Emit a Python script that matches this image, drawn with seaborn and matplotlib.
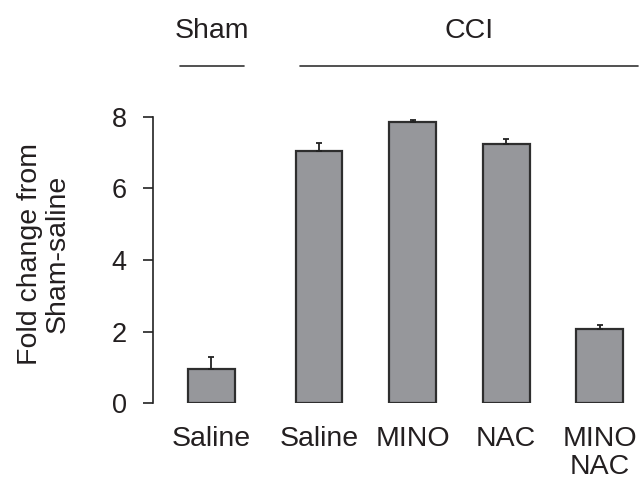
import numpy as np
import matplotlib
matplotlib.use("Agg")
import matplotlib.pyplot as plt
import seaborn as sns

# data
labels = ["Saline", "Saline", "MINO", "NAC", "MINO\nNAC"]
positions = [0.0, 1.15, 2.15, 3.15, 4.15]
values = [0.97, 7.05, 7.86, 7.25, 2.08]
errors = [0.31, 0.21, 0.05, 0.12, 0.10]
groups = ["Sham", "CCI"]
group_spans = [(-0.33, 0.35), (0.95, 4.56)]

sns.set_style("white")
plt.rcParams['font.family'] = ['Liberation Sans', 'DejaVu Sans']
text_col = '#231f20'

fig = plt.figure(figsize=(6.41, 4.84), dpi=100)
ax = fig.add_axes([0.239, 0.1667, 0.761, 0.592])

sns.barplot(x=positions, y=values, native_scale=True, width=0.5,
            color='#96979b', saturation=1, edgecolor='#2e2e2e',
            linewidth=1.6, errorbar=None, ax=ax)
ax.errorbar(positions, values, yerr=[np.zeros(len(errors)), errors],
            fmt='none', ecolor='#222222', elinewidth=1.3, capsize=2.5,
            capthick=1.3)

ax.set_xlim(-0.62, 4.59)
ax.set_ylim(0, 8)
ax.set_yticks([0, 2, 4, 6, 8])
ax.set_xticks(positions)
ax.set_xticklabels(labels, linespacing=1.1)
sns.despine(ax=ax, bottom=True)
ax.spines['left'].set_color('#222222')
ax.spines['left'].set_linewidth(1.2)
ax.tick_params(axis='y', length=7, width=1.2, color='#222222', pad=12,
               labelsize=19.5, labelcolor=text_col, left=True)
ax.tick_params(axis='x', length=0, pad=16, labelsize=20.5, labelcolor=text_col)

ax.set_ylabel("Fold change from\nSham-saline", fontsize=20.5, color=text_col,
              va='center', linespacing=1.05)
ax.yaxis.set_label_coords(-0.224, 0.52)

trans = ax.get_xaxis_transform()
for name, (x0, x1) in zip(groups, group_spans):
    ax.plot([x0, x1], [1.178, 1.178], color='#333333', lw=1.2,
            transform=trans, clip_on=False)
    ax.text((x0 + x1) / 2, 1.30, name, transform=trans, ha='center',
            va='center', fontsize=20.5, color=text_col)

plt.savefig('out.png', dpi=100)
